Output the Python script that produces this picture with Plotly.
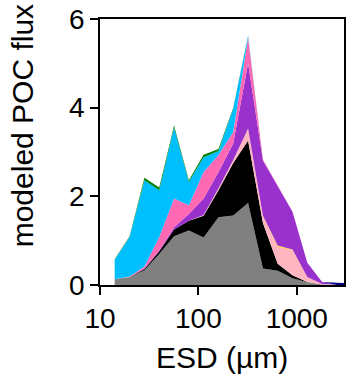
import plotly.graph_objects as go

# ESD bin centres (µm)
esd = [14.1, 20, 28.3, 40, 56.6, 80, 113, 160, 226, 320, 453, 640, 905, 1280, 1810, 2560, 3620]

# stacked layer values (bottom -> top)
gray_v   = [0.13, 0.18, 0.33, 0.70, 1.10, 1.23, 1.07, 1.53, 1.57, 1.85, 0.37, 0.32, 0.15, 0.06, 0.01, 0, 0]
black_v  = [0, 0, 0.03, 0.06, 0.15, 0.22, 0.49, 0.61, 1.18, 1.41, 1.03, 0.16, 0.07, 0.01, 0, 0, 0]
lpink_v  = [0, 0, 0, 0, 0, 0, 0.02, 0.04, 0.07, 0.27, 0.15, 0.39, 0.57, 0.11, 0.01, 0, 0]
gold_v   = [0, 0, 0, 0, 0, 0, 0, 0, 0, 0, 0.01, 0.02, 0.01, 0, 0, 0, 0]
purple_v = [0, 0, 0.01, 0.02, 0.05, 0.15, 0.37, 0.37, 0.37, 1.47, 1.25, 1.34, 0.85, 0.32, 0.05, 0, 0]
hpink_v  = [0, 0.01, 0.05, 0.30, 0.65, 0.20, 0.60, 0.38, 0.26, 0.58, 0.02, 0, 0, 0, 0, 0, 0]
cyan_v   = [0.44, 0.89, 1.94, 1.06, 1.60, 0.53, 0.33, 0.09, 0.53, 0.04, 0, 0, 0, 0, 0, 0, 0]
green_v  = [0.01, 0.02, 0.06, 0.06, 0.05, 0.03, 0.06, 0.05, 0.02, 0.01, 0, 0, 0, 0, 0, 0, 0]
navy_v   = [0, 0, 0, 0, 0, 0, 0, 0, 0, 0, 0, 0, 0, 0, 0, 0.05, 0.04]

layers = [
    (gray_v, "#808080"),
    (black_v, "#000000"),
    (lpink_v, "#FFB6C1"),
    (gold_v, "#FFD700"),
    (purple_v, "#9932CC"),
    (hpink_v, "#FF69B4"),
    (cyan_v, "#00BFFF"),
    (green_v, "#008000"),
    (navy_v, "#000080"),
]

x_ticks = [10, 100, 1000]
x_ticktext = ["10", "100", "1000"]
y_ticks = [0, 2, 4, 6]

fig = go.Figure()
for vals, col in layers:
    fig.add_trace(go.Scatter(
        x=esd, y=vals, mode="lines", stackgroup="one",
        line=dict(width=0, color=col), fillcolor=col,
        showlegend=False, hoverinfo="skip",
    ))

font_fam = "Liberation Sans, Arial, sans-serif"
fig.update_layout(
    width=347, height=374,
    margin=dict(l=100, r=1, t=19, b=89),
    plot_bgcolor="white", paper_bgcolor="white",
    font=dict(family=font_fam, size=28, color="black"),
    xaxis=dict(
        type="log", range=[1, 3.48],
        tickvals=x_ticks, ticktext=x_ticktext,
        ticks="outside", ticklen=8, tickwidth=1.5, tickcolor="black",
        showline=True, linewidth=1.5, linecolor="black", mirror=True,
        showgrid=False, zeroline=False,
        tickfont=dict(size=28),
    ),
    yaxis=dict(
        range=[0, 6], tickvals=y_ticks,
        ticks="outside", ticklen=8, tickwidth=1.5, tickcolor="black",
        showline=True, linewidth=1.5, linecolor="black", mirror=True,
        showgrid=False, zeroline=False,
        tickfont=dict(size=28),
    ),
    annotations=[
        dict(text="ESD (µm)", xref="paper", yref="paper", x=0.5, y=-0.271,
             xanchor="center", yanchor="middle", showarrow=False,
             font=dict(size=30)),
        dict(text="modeled POC flux", xref="paper", yref="paper", x=-0.32, y=0.6,
             xanchor="center", yanchor="middle", textangle=-90, showarrow=False,
             font=dict(size=30)),
    ],
)

fig.write_html("out.html")
